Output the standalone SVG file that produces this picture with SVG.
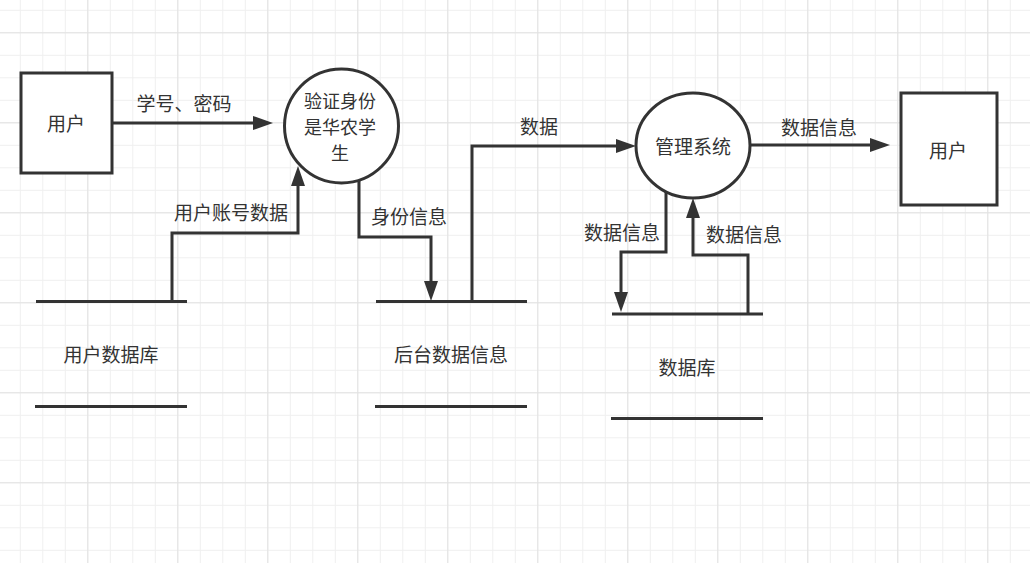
<svg xmlns="http://www.w3.org/2000/svg" width="1030" height="563" viewBox="0 0 1030 563">
<style>
.ln{fill:none;stroke:#333;stroke-width:3}
.sh{fill:#fff;stroke:#333;stroke-width:3}
.tx{font-family:"Noto Sans CJK SC","Noto Sans",sans-serif;font-size:19px;fill:#333;text-anchor:middle;dominant-baseline:central}
.sm{font-size:18px}
</style>
<defs>
<pattern id="minor" patternUnits="userSpaceOnUse" x="19.8" y="9.8" width="22.5" height="22.5">
<path d="M0,0.5 H22.5 M0.5,0 V22.5" stroke="#efefef" stroke-width="1" fill="none"/>
</pattern>
<pattern id="major" patternUnits="userSpaceOnUse" x="87.3" y="32.3" width="90" height="90">
<path d="M0,0.5 H90 M0.5,0 V90" stroke="#e2e2e2" stroke-width="1" fill="none"/>
</pattern>
<marker id="arr" markerUnits="userSpaceOnUse" markerWidth="22" markerHeight="16" refX="10" refY="7" orient="auto">
<path d="M0,0 L20,7 L0,14 z" fill="#333"/>
</marker>
</defs>
<rect width="1030" height="563" fill="#fff"/>
<rect width="1030" height="563" fill="url(#minor)"/>
<rect width="1030" height="563" fill="url(#major)"/>

<g id="connectors">
<path class="ln" d="M112,123 H263" marker-end="url(#arr)"/>
<path class="ln" d="M172,301 V233 H298 V176" marker-end="url(#arr)"/>
<path class="ln" d="M359,180 V237 H431 V291" marker-end="url(#arr)"/>
<path class="ln" d="M472,301 V146 H626" marker-end="url(#arr)"/>
<path class="ln" d="M750,145 H880" marker-end="url(#arr)"/>
<path class="ln" d="M666,192 V252 H621 V302" marker-end="url(#arr)"/>
<path class="ln" d="M748,314 V255 H693 V208" marker-end="url(#arr)"/>
<text class="tx" x="184" y="102">学号、密码</text>
<text class="tx" x="231" y="211">用户账号数据</text>
<text class="tx" x="409" y="215">身份信息</text>
<text class="tx" x="539" y="125">数据</text>
<text class="tx" x="819" y="126">数据信息</text>
<text class="tx" x="622" y="231">数据信息</text>
<text class="tx" x="744" y="233">数据信息</text>
</g>

<g id="user1">
<rect class="sh" x="21" y="73" width="91" height="100"/>
<text class="tx" x="66" y="122">用户</text>
</g>

<g id="verify">
<circle class="sh" cx="341.5" cy="126" r="57"/>
<text class="tx sm"><tspan x="340" y="100">验证身份</tspan><tspan x="340" y="126">是华农学</tspan><tspan x="340" y="152">生</tspan></text>
</g>

<g id="userdb">
<path class="ln" d="M36,301.5 H187 M35,406.5 H187"/>
<text class="tx" x="111" y="353">用户数据库</text>
</g>

<g id="backend">
<path class="ln" d="M376,301.5 H527 M375,406.5 H527"/>
<text class="tx" x="451" y="353">后台数据信息</text>
</g>

<g id="manage">
<ellipse class="sh" cx="693" cy="145.5" rx="57" ry="52.5"/>
<text class="tx" x="693" y="145">管理系统</text>
</g>

<g id="user2">
<rect class="sh" x="901" y="93" width="96" height="112"/>
<text class="tx" x="948" y="149">用户</text>
</g>

<g id="db">
<path class="ln" d="M612,314 H763 M611,418.5 H763"/>
<text class="tx" x="687" y="366">数据库</text>
</g>
</svg>
